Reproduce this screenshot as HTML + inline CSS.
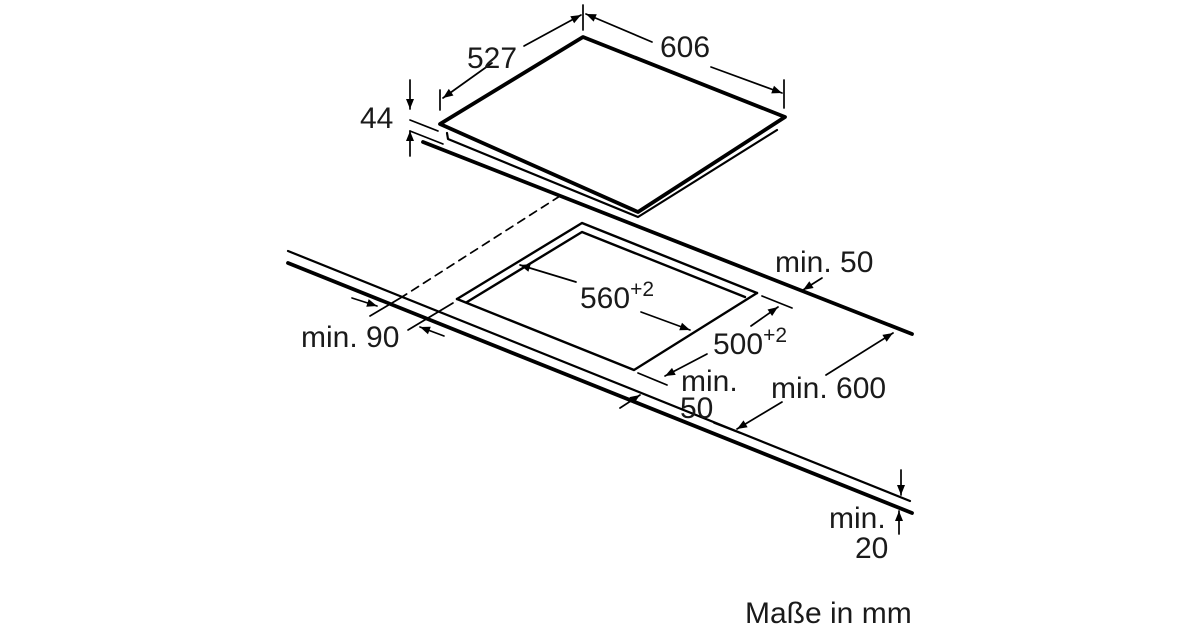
<!DOCTYPE html>
<html><head><meta charset="utf-8"><style>
html,body{margin:0;padding:0;background:#fff;}
svg{display:block;}
text{font-family:"Liberation Sans",sans-serif;fill:#1a1a1a;}
</style></head><body>
<svg width="1200" height="630" viewBox="0 0 1200 630" xmlns="http://www.w3.org/2000/svg">
<defs>
<marker id="a" viewBox="0 0 10 10" refX="10" refY="5" markerWidth="15" markerHeight="10" orient="auto" markerUnits="userSpaceOnUse"><path d="M0,1 L10,5 L0,9 z" fill="#000"/></marker>
</defs>
<g stroke="#000" fill="none" stroke-linecap="round" stroke-linejoin="round">
<path d="M440,124 L583,37 L785,117 L638,212 Z" stroke-width="3.8"/>
<path d="M447,133 L448,139 L638,217 L777,130" stroke-width="2.2"/>
<line x1="423" y1="142" x2="912" y2="334" stroke-width="3.8"/>
<line x1="288" y1="251" x2="910" y2="501" stroke-width="2.2"/>
<line x1="288" y1="263" x2="912" y2="513" stroke-width="3.8"/>
<path d="M457,299 L582,223 L757,293" stroke-width="2.4"/>
<path d="M467,302 L582,232 L745,297" stroke-width="2.4"/>
<path d="M457,299 L634,370 L757,293" stroke-width="2.4"/>
<line x1="560" y1="196" x2="402" y2="297" stroke-width="1.7" stroke-dasharray="8,6"/>
<line x1="402" y1="297" x2="370" y2="316" stroke-width="1.7"/>
<line x1="408" y1="330" x2="453" y2="303" stroke-width="1.7"/>
<line x1="410" y1="120" x2="438" y2="131" stroke-width="1.7"/>
<line x1="410" y1="131" x2="443" y2="144" stroke-width="1.7"/>
<line x1="410" y1="80" x2="410" y2="109" stroke-width="1.7" marker-end="url(#a)"/>
<line x1="410" y1="156" x2="410" y2="131" stroke-width="1.7" marker-end="url(#a)"/>
<line x1="440" y1="90" x2="440" y2="110" stroke-width="1.7"/>
<line x1="583" y1="5" x2="583" y2="30" stroke-width="1.7"/>
<line x1="784" y1="80" x2="784" y2="108" stroke-width="1.7"/>
<line x1="492" y1="63" x2="443" y2="98" stroke-width="1.7" marker-end="url(#a)"/>
<line x1="524" y1="46" x2="581" y2="15" stroke-width="1.7" marker-end="url(#a)"/>
<line x1="652" y1="42" x2="586" y2="14" stroke-width="1.7" marker-end="url(#a)"/>
<line x1="711" y1="67" x2="782" y2="93" stroke-width="1.7" marker-end="url(#a)"/>
<line x1="576" y1="282" x2="520" y2="265" stroke-width="1.7" marker-end="url(#a)"/>
<line x1="641" y1="312" x2="690" y2="330" stroke-width="1.7" marker-end="url(#a)"/>
<line x1="762" y1="296" x2="792" y2="308" stroke-width="1.7"/>
<line x1="751" y1="326" x2="778" y2="307" stroke-width="1.7" marker-end="url(#a)"/>
<line x1="707" y1="354" x2="665" y2="376" stroke-width="1.7" marker-end="url(#a)"/>
<line x1="638" y1="373" x2="667" y2="385" stroke-width="1.7"/>
<line x1="620" y1="408" x2="640" y2="395" stroke-width="1.7" marker-end="url(#a)"/>
<line x1="822" y1="278" x2="803" y2="290" stroke-width="1.7" marker-end="url(#a)"/>
<line x1="826" y1="375" x2="893" y2="333" stroke-width="1.7" marker-end="url(#a)"/>
<line x1="782" y1="402" x2="737" y2="429" stroke-width="1.7" marker-end="url(#a)"/>
<line x1="714" y1="423" x2="740" y2="433" stroke-width="1.7"/>
<line x1="352" y1="298" x2="377" y2="306" stroke-width="1.7" marker-end="url(#a)"/>
<line x1="444" y1="336" x2="420" y2="327" stroke-width="1.7" marker-end="url(#a)"/>
<line x1="901" y1="470" x2="901" y2="495" stroke-width="1.7" marker-end="url(#a)"/>
<line x1="899" y1="534" x2="899" y2="511" stroke-width="1.7" marker-end="url(#a)"/>
</g>
<g font-size="30">
<text x="467" y="68">527</text>
<text x="660" y="57">606</text>
<text x="360" y="128">44</text>
<text x="775" y="272">min. 50</text>
<text x="580" y="308">560<tspan font-size="21" dy="-12">+2</tspan></text>
<text x="713" y="354">500<tspan font-size="21" dy="-12">+2</tspan></text>
<text x="681" y="391">min.</text>
<text x="680" y="418">50</text>
<text x="771" y="398">min. 600</text>
<text x="301" y="347">min. 90</text>
<text x="829" y="528">min.</text>
<text x="855" y="558">20</text>
<text x="745" y="623">Maße in mm</text>
</g>
</svg>
</body></html>
